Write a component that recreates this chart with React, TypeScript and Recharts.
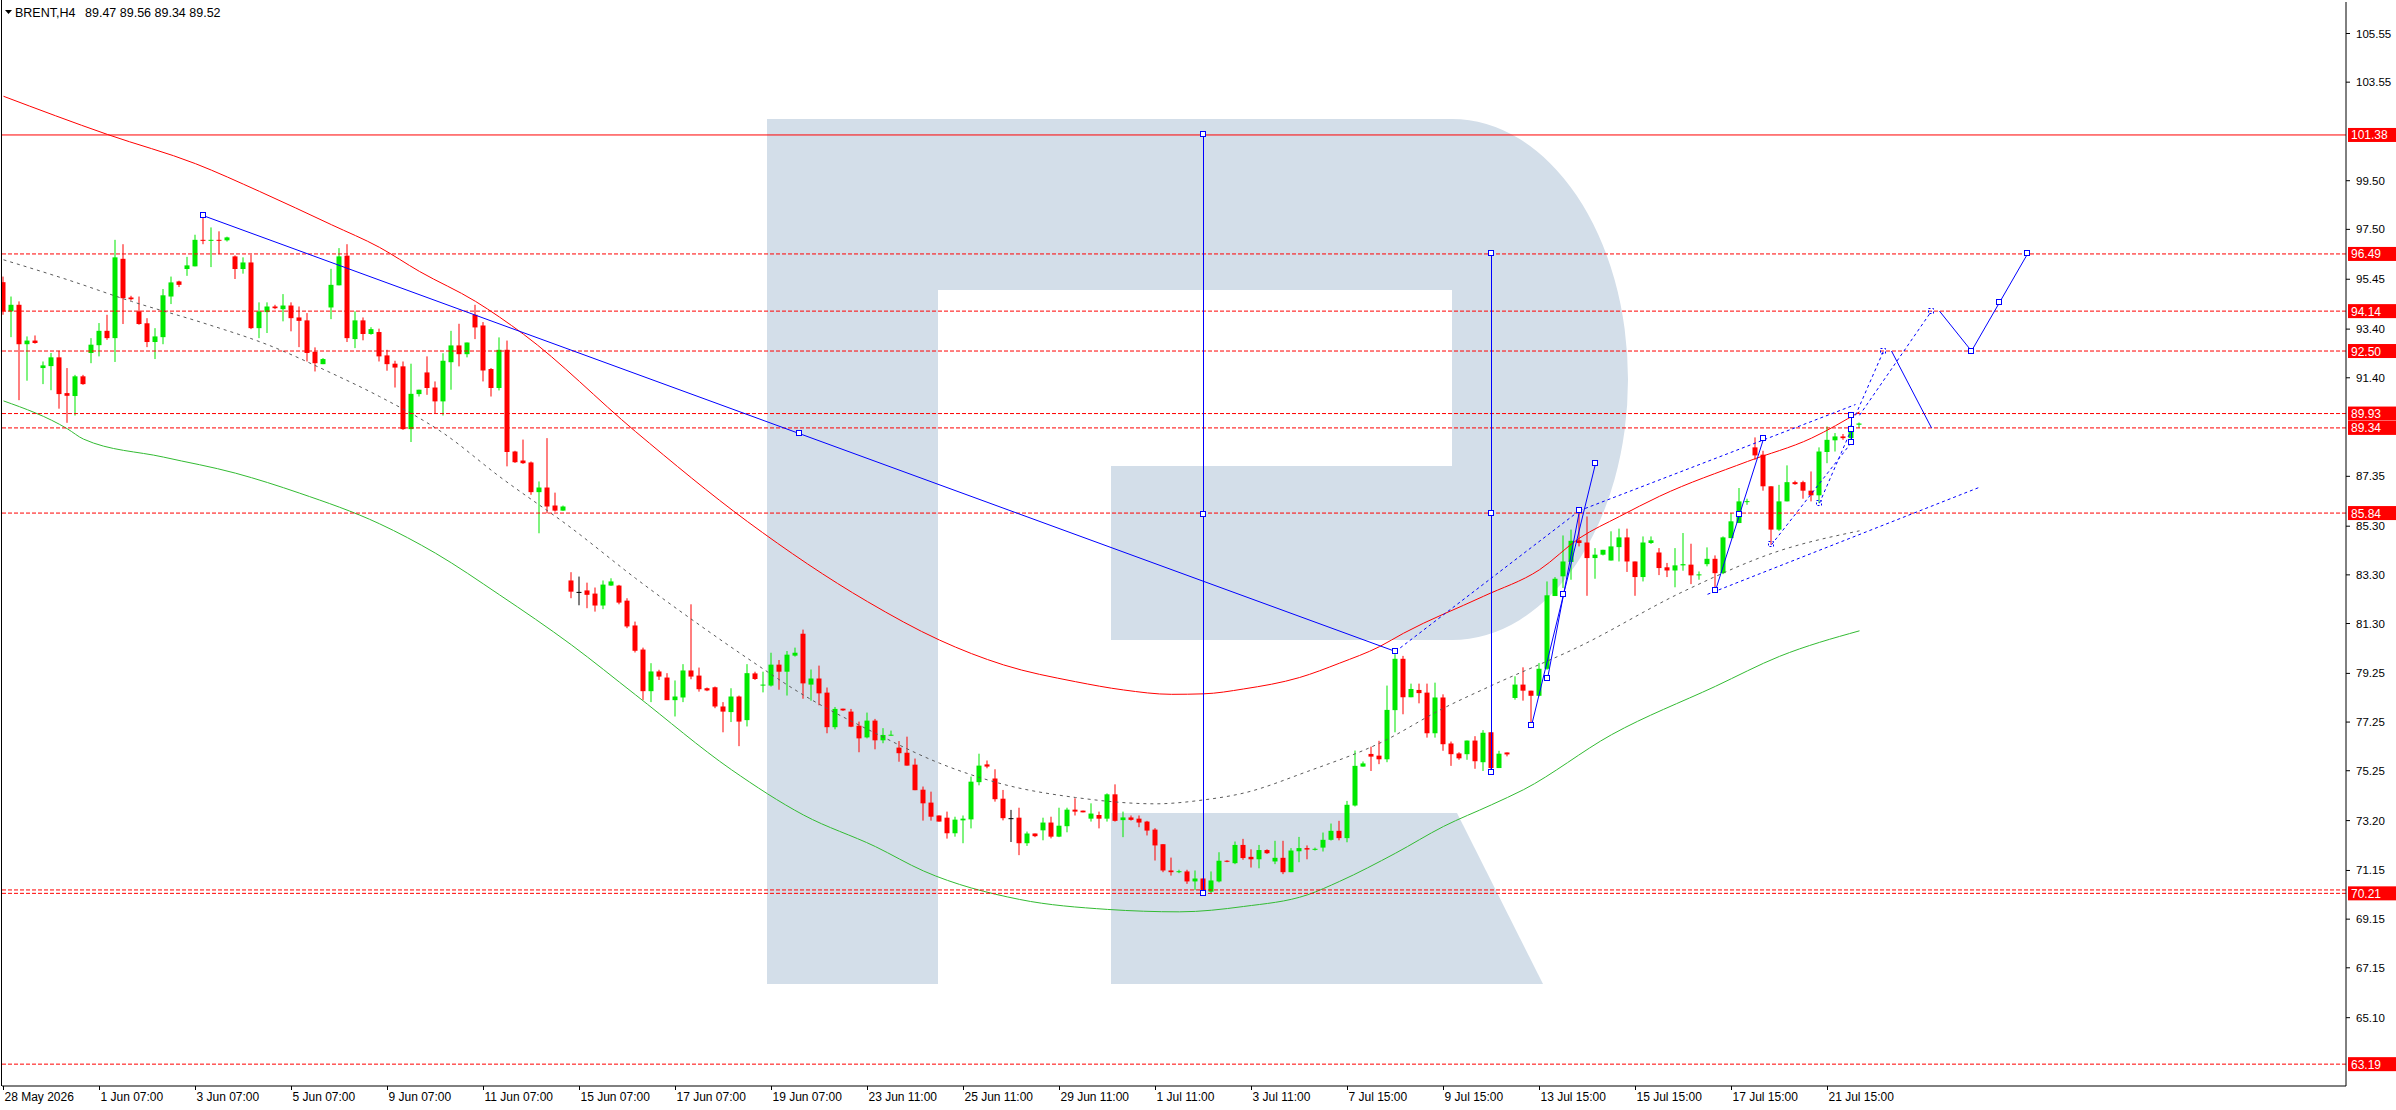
import React from 'react';
import { ComposedChart, Bar, Line, XAxis, YAxis, ReferenceLine, ReferenceDot } from 'recharts';

// H4 bars: [open, high, low, close]
const candles: number[][] = [
  [95.33, 95.56, 93.99, 94.13], [94.13, 94.74, 93.07, 94.40], [94.40, 94.54, 90.48, 92.78], [92.78, 93.10, 91.28, 92.93],
  [92.93, 93.14, 92.80, 92.83], [91.80, 92.07, 91.14, 91.91], [91.88, 92.42, 90.89, 92.24], [92.24, 92.51, 90.13, 90.73],
  [90.77, 91.80, 89.55, 90.66], [90.65, 91.52, 89.85, 91.46], [91.46, 91.52, 91.11, 91.14], [92.42, 93.03, 92.00, 92.76],
  [92.74, 93.65, 92.28, 93.33], [93.33, 93.99, 92.96, 93.03], [93.03, 97.07, 92.05, 96.35], [96.29, 96.89, 93.61, 94.67],
  [94.70, 94.77, 94.58, 94.63], [94.13, 94.74, 93.58, 93.61], [93.64, 93.85, 92.66, 92.87], [92.87, 93.44, 92.17, 93.10],
  [93.07, 95.05, 92.78, 94.79], [94.74, 95.56, 94.43, 95.32], [95.36, 95.39, 95.13, 95.22], [95.87, 96.37, 95.59, 96.02],
  [95.98, 97.28, 95.98, 97.07], [97.07, 98.06, 96.89, 97.05], [97.06, 97.58, 95.95, 97.07], [97.07, 97.42, 96.48, 97.06],
  [97.05, 97.20, 97.00, 97.17], [96.39, 96.43, 95.46, 95.87], [95.87, 96.35, 95.68, 96.14], [96.14, 96.46, 93.40, 93.44],
  [93.44, 94.50, 93.03, 94.13], [94.10, 94.50, 93.24, 94.33], [94.33, 94.40, 94.22, 94.26], [94.22, 94.84, 93.72, 94.37],
  [94.37, 94.50, 93.31, 93.85], [93.88, 94.33, 92.66, 93.74], [93.76, 94.06, 92.07, 92.42], [92.47, 92.65, 91.66, 92.00],
  [91.96, 92.21, 91.96, 92.17], [94.29, 95.88, 93.81, 95.22], [95.20, 96.73, 95.20, 96.39], [96.42, 96.89, 92.87, 93.03],
  [92.99, 94.13, 92.62, 93.76], [93.76, 93.88, 92.94, 93.20], [93.20, 93.48, 93.17, 93.40], [93.28, 93.42, 92.07, 92.28],
  [92.32, 92.55, 91.69, 91.96], [91.98, 92.10, 91.00, 91.82], [91.87, 92.07, 89.26, 89.29], [89.29, 91.98, 88.76, 90.74],
  [90.73, 90.91, 90.63, 90.91], [91.62, 92.28, 90.70, 90.98], [91.00, 91.25, 89.95, 90.43], [90.43, 92.41, 89.85, 92.10],
  [92.04, 93.33, 90.91, 92.73], [92.73, 93.62, 91.87, 92.37], [92.37, 92.85, 92.24, 92.85], [93.99, 94.40, 92.99, 93.47],
  [93.55, 93.69, 91.25, 91.70], [91.76, 91.80, 90.63, 90.98], [90.98, 93.06, 90.88, 92.55], [92.55, 92.93, 87.76, 88.35],
  [88.37, 88.40, 87.90, 87.93], [88.00, 88.86, 87.86, 87.89], [87.92, 87.96, 86.59, 86.70], [86.70, 87.14, 85.01, 86.89],
  [86.89, 88.92, 85.83, 86.11], [86.15, 86.68, 85.90, 85.94], [85.94, 86.15, 85.93, 86.11], [83.07, 83.41, 82.34, 82.61],
  [82.60, 83.23, 82.05, 82.60], [82.66, 82.98, 81.93, 82.48], [82.53, 82.78, 81.79, 82.04], [82.04, 83.07, 81.89, 82.90],
  [82.86, 83.16, 82.85, 83.03], [82.86, 82.89, 82.09, 82.16], [82.24, 82.34, 81.11, 81.18], [81.22, 81.38, 80.11, 80.18],
  [80.23, 80.31, 78.16, 78.52], [78.52, 79.67, 78.07, 79.33], [79.33, 79.40, 78.98, 79.12], [79.08, 79.26, 78.15, 78.15],
  [78.15, 78.96, 77.48, 78.30], [78.26, 79.63, 78.07, 79.37], [79.37, 82.09, 79.01, 79.12], [79.16, 79.49, 78.50, 78.60],
  [78.64, 78.67, 78.52, 78.55], [78.68, 78.71, 77.82, 77.89], [77.89, 78.07, 76.83, 77.68], [77.66, 78.64, 77.25, 78.30],
  [78.30, 78.34, 76.26, 77.27], [77.33, 79.63, 77.07, 79.26], [79.25, 79.32, 78.98, 79.02], [78.76, 79.32, 78.47, 78.79],
  [78.75, 80.10, 78.71, 79.61], [79.61, 79.80, 78.58, 79.32], [79.32, 80.17, 78.34, 80.02], [79.98, 80.31, 79.94, 80.10],
  [80.88, 81.05, 78.21, 78.84], [78.79, 79.41, 78.13, 79.04], [79.04, 79.57, 77.94, 78.43], [78.46, 78.67, 76.79, 77.04],
  [77.04, 77.87, 76.95, 77.79], [77.80, 77.80, 77.71, 77.73], [77.68, 77.79, 77.04, 77.06], [77.10, 77.27, 76.01, 76.58],
  [76.62, 77.64, 76.58, 77.31], [77.31, 77.38, 76.13, 76.50], [76.50, 77.00, 76.38, 76.72], [76.71, 76.90, 76.70, 76.73],
  [76.20, 76.47, 75.62, 75.97], [75.99, 76.65, 75.46, 75.46], [75.50, 75.75, 74.45, 74.45], [74.47, 74.60, 73.20, 73.91],
  [73.94, 74.39, 73.20, 73.36], [73.41, 73.41, 73.16, 73.16], [73.32, 73.57, 72.46, 72.68], [72.68, 73.36, 72.54, 73.24],
  [73.21, 73.41, 72.27, 73.28], [73.25, 75.01, 72.88, 74.80], [74.78, 75.95, 74.65, 75.46], [75.51, 75.67, 75.35, 75.42],
  [74.93, 75.31, 73.98, 74.08], [74.10, 74.46, 73.21, 73.30], [73.30, 73.64, 72.32, 73.30], [73.32, 73.73, 71.78, 72.27],
  [72.27, 72.75, 72.16, 72.67], [72.67, 72.67, 72.52, 72.56], [72.80, 73.32, 72.39, 73.12], [73.12, 73.36, 72.47, 72.54],
  [72.54, 73.73, 72.52, 72.99], [72.97, 73.73, 72.72, 73.65], [73.65, 74.12, 73.41, 73.57], [73.61, 73.61, 73.54, 73.54],
  [73.28, 73.91, 73.16, 73.49], [73.43, 73.57, 72.88, 73.28], [73.28, 74.32, 73.16, 74.28], [74.28, 74.69, 73.16, 73.19],
  [73.22, 73.57, 72.52, 73.33], [73.33, 73.41, 73.20, 73.23], [73.28, 73.41, 72.93, 73.12], [73.16, 73.19, 72.59, 72.79],
  [72.83, 72.89, 71.56, 72.18], [72.23, 72.23, 71.08, 71.15], [71.15, 71.68, 70.94, 71.08], [71.08, 71.18, 71.04, 71.12],
  [71.11, 71.18, 70.60, 70.70], [70.70, 71.15, 70.35, 70.82], [70.82, 70.82, 70.21, 70.25], [70.28, 71.11, 70.21, 70.74],
  [70.70, 71.90, 70.66, 71.55], [71.55, 71.57, 71.49, 71.52], [71.45, 72.34, 71.41, 72.20], [72.20, 72.45, 71.59, 71.66],
  [71.71, 72.02, 71.27, 71.61], [71.61, 72.20, 71.24, 71.99], [71.99, 72.02, 71.83, 71.86], [71.52, 72.37, 71.41, 71.67],
  [71.67, 72.37, 71.00, 71.08], [71.08, 72.07, 71.08, 71.97], [71.94, 72.53, 71.49, 72.07], [72.07, 72.18, 71.61, 72.01],
  [72.02, 72.09, 71.97, 72.04], [72.09, 72.71, 71.93, 72.41], [72.41, 73.08, 72.38, 72.78], [72.78, 73.19, 72.39, 72.48],
  [72.48, 74.01, 72.31, 73.85], [73.82, 76.08, 73.78, 75.45], [75.42, 75.63, 75.42, 75.55], [75.94, 76.24, 75.24, 75.83],
  [75.87, 76.48, 75.52, 75.72], [75.72, 78.75, 75.60, 77.75], [77.74, 80.04, 76.83, 79.85], [79.85, 79.97, 77.57, 78.27],
  [78.27, 78.83, 78.27, 78.61], [78.57, 78.83, 78.02, 78.44], [78.46, 78.83, 76.61, 76.79], [76.79, 78.87, 76.61, 78.26],
  [78.26, 78.39, 76.07, 76.34], [76.37, 76.45, 75.45, 75.93], [75.96, 76.01, 75.70, 75.76], [75.93, 76.49, 75.70, 76.49],
  [76.49, 76.67, 75.33, 75.64], [75.60, 76.92, 75.24, 76.81], [76.83, 76.83, 75.18, 75.36], [75.36, 76.07, 75.36, 75.95],
  [76.00, 76.00, 75.84, 75.92], [78.24, 79.13, 78.17, 78.79], [78.79, 79.50, 78.13, 78.54], [78.54, 78.54, 77.10, 78.33],
  [78.33, 79.68, 78.31, 79.44], [79.44, 83.03, 79.40, 82.46], [82.43, 83.21, 82.43, 83.14], [83.24, 84.92, 82.76, 83.85],
  [83.83, 85.16, 83.10, 84.70], [84.72, 85.84, 84.47, 84.61], [84.63, 85.70, 82.44, 83.99], [83.99, 84.40, 83.14, 84.13],
  [84.13, 84.33, 84.10, 84.33], [83.89, 85.09, 83.89, 84.47], [84.44, 85.20, 83.85, 84.84], [84.84, 85.20, 83.42, 83.85],
  [83.85, 83.85, 82.44, 83.21], [83.21, 84.88, 83.03, 84.63], [84.61, 84.88, 84.57, 84.72], [84.22, 84.40, 83.29, 83.58],
  [83.61, 83.79, 83.21, 83.48], [83.48, 84.40, 82.79, 83.69], [83.69, 85.02, 83.47, 83.74], [83.72, 84.58, 82.92, 83.28],
  [83.29, 83.44, 83.10, 83.32], [83.74, 84.43, 83.65, 83.96], [83.96, 84.10, 82.66, 83.37], [83.37, 84.88, 83.33, 84.84],
  [84.81, 85.84, 84.81, 85.50], [85.43, 86.87, 85.43, 86.32], [86.31, 86.43, 86.18, 86.33], [88.54, 88.95, 88.03, 88.21],
  [88.24, 88.40, 86.76, 86.94], [86.94, 86.94, 84.54, 85.16], [85.16, 87.00, 85.11, 86.32], [86.32, 87.80, 86.32, 87.11],
  [87.11, 87.17, 87.00, 87.03], [87.11, 87.17, 86.43, 86.76], [86.76, 87.55, 86.32, 86.57], [86.57, 88.54, 86.25, 88.37],
  [88.35, 89.40, 87.89, 88.85], [88.83, 89.13, 88.37, 88.99], [88.99, 89.09, 88.85, 88.92], [88.92, 89.47, 88.79, 89.22],
  [89.47, 89.56, 89.34, 89.52],
];

// moving averages sampled at [bar index, price]
const redMa = [
  [0, 102.97], [13, 101.4], [24, 100.2], [32, 99.06], [41, 97.69], [47, 96.76], [52, 95.77], [59, 94.54], [65, 93.19],
  [79, 89.19], [93, 85.49], [108, 82.2], [117, 80.62], [125, 79.6], [134, 78.91], [140, 78.57], [146, 78.39], [150, 78.41],
  [155, 78.61], [162, 79.08], [167, 79.67], [172, 80.35], [175, 80.9], [185, 82.42], [192, 83.51], [197, 84.81],
  [202, 85.7], [207, 86.53], [218, 87.96], [226, 88.92], [232, 90.0],
];
const greenMa = [
  [0, 90.45], [8, 89.3], [10, 88.88], [20, 88.14], [29, 87.48], [37, 86.66], [47, 85.4], [54, 84.19], [62, 82.48],
  [71, 80.42], [79, 78.37], [91, 75.29], [100, 73.43], [109, 72.13], [115, 71.13], [127, 69.96], [138, 69.55],
  [147, 69.45], [155, 69.67], [163, 70.15], [167, 70.7], [174, 71.86], [180, 72.96], [186, 73.85], [190, 74.47],
  [201, 76.73], [214, 78.72], [222, 79.95], [232, 81.0],
];
const grayMa = [
  [0, 96.25], [8, 95.43], [16, 94.54], [25, 93.65], [33, 92.76], [41, 91.59], [47, 90.63], [55, 89.12], [62, 87.34],
  [71, 85.22], [79, 83.16], [87, 81.24], [93, 79.87], [100, 78.36], [109, 76.79], [117, 75.56], [125, 74.69],
  [134, 74.15], [144, 73.89], [150, 74.05], [155, 74.33], [163, 75.22], [172, 76.38], [180, 77.82], [186, 78.75],
  [197, 80.36], [210, 82.62], [222, 84.29], [232, 85.11],
];

const xTickIdx = [0, 12, 24, 36, 48, 60, 72, 84, 96, 108, 120, 132, 144, 156, 168, 180, 192, 204, 216, 228];
const xTickLabels = [
  '28 May 2026', '1 Jun 07:00', '3 Jun 07:00', '5 Jun 07:00', '9 Jun 07:00', '11 Jun 07:00', '15 Jun 07:00',
  '17 Jun 07:00', '19 Jun 07:00', '23 Jun 11:00', '25 Jun 11:00', '29 Jun 11:00', '1 Jul 11:00', '3 Jul 11:00',
  '7 Jul 15:00', '9 Jul 15:00', '13 Jul 15:00', '15 Jul 15:00', '17 Jul 15:00', '21 Jul 15:00',
];
const yTicks = [105.55, 103.55, 99.5, 97.5, 95.45, 93.4, 91.4, 87.35, 85.3, 83.3, 81.3, 79.25, 77.25, 75.25, 73.2, 71.15, 69.15, 67.15, 65.1];

const solidLevel = 101.38;
const dashedLevels = [96.49, 94.14, 92.5, 89.93, 89.34, 85.84, 70.21, 63.19];
const untaggedLevels = [70.35];

// analysis drawings, points are [bar index, price]
const solidSegments = [
  [[25, 98.06], [174, 80.15]],
  [[150, 101.38], [150, 70.21]],
  [[186, 96.49], [186, 75.18]],
  [[191, 77.1], [199, 87.87]],
  [[193, 79.03], [197, 85.94]],
  [[214, 82.66], [220, 88.89]],
  [[231, 88.74], [231, 89.84]],
  [[236, 92.5], [241, 89.34]],
  [[242, 94.14], [246, 92.5]],
  [[246, 92.5], [253, 96.49]],
];
const dashedSegments = [
  [[174, 80.15], [197, 85.94]],
  [[197, 85.94], [231.5, 90.3]],
  [[213, 82.5], [247, 86.9]],
  [[221, 84.54], [231, 88.74]],
  [[227, 86.25], [231, 89.29]],
  [[231.5, 89.86], [235, 92.5]],
  [[232, 89.86], [241, 94.14]],
];
const squareMarks = [
  [25, 98.06], [99.5, 89.1], [174, 80.15],
  [150, 101.38], [150, 85.8], [150, 70.21],
  [186, 96.49], [186, 85.84], [186, 75.18],
  [191, 77.1], [193, 79.03], [195, 82.48], [197, 85.94], [199, 87.87],
  [214, 82.66], [217, 85.78], [220, 88.89],
  [231, 88.74], [231, 89.29], [231, 89.84],
  [246, 92.5], [249.5, 94.5], [253, 96.49],
];
const dashedMarks = [[235, 92.5], [241, 94.14], [221, 84.54], [227, 86.25]];

type Row = { i: number; o: number; h: number; l: number; c: number; range: number[]; red?: number; green?: number; gray?: number };

const rows: Row[] = candles.map((b, i) => ({ i, o: b[0], h: b[1], l: b[2], c: b[3], range: [b[2], b[1]] }));
redMa.forEach(([i, v]) => { rows[i].red = v; });
greenMa.forEach(([i, v]) => { rows[i].green = v; });
grayMa.forEach(([i, v]) => { rows[i].gray = v; });

const FONT = '"Liberation Sans", Arial, sans-serif';
const BLUE = '#0000ff';
const RED = '#ff0000';

const Candle = (props: any) => {
  const { x, y, width, height, payload } = props;
  if (!payload || x == null) return null;
  const { o, h, l, c } = payload;
  const cx = x + width / 2;
  const top = Math.min(y, y + height);
  const span = Math.abs(height);
  const k = h > l ? span / (h - l) : 0;
  const py = (p: number) => top + (h - p) * k;
  const color = c > o ? '#00e800' : c < o ? RED : '#000000';
  const bTop = py(Math.max(o, c));
  const bBot = py(Math.min(o, c));
  return (
    <g>
      <rect x={cx - 0.5} y={top} width={1} height={Math.max(span, 1)} fill={color} />
      <rect x={cx - 2.5} y={bTop} width={5} height={Math.max(bBot - bTop, 1)} fill={color} />
    </g>
  );
};

const XTick = (props: any) => {
  const idx = xTickIdx.indexOf(props.payload.value);
  return (
    <text x={props.x + 1} y={1101} fontSize={12} fontFamily={FONT} fill="#000" textAnchor="start">
      {xTickLabels[idx]}
    </text>
  );
};

const YTick = (props: any) => (
  <text x={2356} y={props.y + 4} fontSize={11.5} fontFamily={FONT} fill="#000" textAnchor="start">
    {Number(props.payload.value).toFixed(2)}
  </text>
);

const LevelTag = (props: any) => {
  const vb = props.viewBox || {};
  const right = (vb.x || 0) + (vb.width || 0);
  const yy = vb.y || 0;
  return (
    <g>
      <rect x={right + 2} y={yy - 7} width={48} height={14} fill={RED} />
      <text x={right + 5} y={yy + 4.5} fontSize={12} fontFamily={FONT} fill="#ffffff">
        {props.text}
      </text>
    </g>
  );
};

const SquareMark = (props: any) => (
  <rect x={Math.floor(props.cx) - 2.5} y={Math.floor(props.cy) - 2.5} width={5} height={5} fill="#ffffff" stroke={BLUE} strokeWidth={1} />
);
const DashedMark = (props: any) => (
  <rect x={Math.floor(props.cx) - 2.5} y={Math.floor(props.cy) - 2.5} width={5} height={5} fill="none" stroke={BLUE} strokeWidth={1} strokeDasharray="2 2" />
);

const Backdrop = () => (
  <svg width={2396} height={1110} style={{ position: 'absolute', left: 0, top: 0 }}>
    <rect x={0} y={0} width={2396} height={1110} fill="#ffffff" />
    <g fill="#d3dee9">
      <rect x={767} y={119} width={171} height={865} />
      <path d="M938,119 H1452 A176,260.5 0 0 1 1452,640 H1111 V466 H1452 V290 H938 Z" />
      <path d="M1111,813 H1457 L1543,984 H1111 Z" />
    </g>
    <rect x={1} y={0} width={1} height={1086} fill="#000000" />
    <polygon points="5,10 12,10 8.5,14" fill="#000000" />
    <text x={15} y={17} fontSize={12.5} fontFamily={FONT} fill="#000">BRENT,H4</text>
    <text x={85} y={17} fontSize={12.5} fontFamily={FONT} fill="#000">89.47 89.56 89.34 89.52</text>
  </svg>
);

const App = () => {
  return (
    <div style={{ position: 'absolute', left: 0, top: 0, width: 2396, height: 1110, background: '#ffffff' }}>
      <Backdrop />
      <div style={{ position: 'absolute', left: 0, top: 0 }}>
        <ComposedChart width={2396} height={1110} data={rows} margin={{ top: 2, right: 0, bottom: 0, left: 2 }}>
          <XAxis
            dataKey="i"
            type="number"
            domain={[-0.1875, 292.8125]}
            allowDataOverflow
            ticks={xTickIdx}
            interval={0}
            tick={<XTick />}
            tickSize={4}
            tickLine={{ stroke: '#000' }}
            axisLine={{ stroke: '#000' }}
            height={24}
          />
          <YAxis
            orientation="right"
            type="number"
            domain={[62.292, 106.845]}
            allowDataOverflow
            ticks={yTicks}
            interval={0}
            tick={<YTick />}
            tickSize={4}
            tickLine={{ stroke: '#000' }}
            axisLine={{ stroke: '#000' }}
            width={50}
          />
          <Bar dataKey="range" barSize={5} shape={<Candle />} isAnimationActive={false} />
          <Line dataKey="red" type="monotone" stroke={RED} strokeWidth={1} dot={false} connectNulls isAnimationActive={false} />
          <Line dataKey="green" type="monotone" stroke="#33bb33" strokeWidth={1} dot={false} connectNulls isAnimationActive={false} />
          <Line dataKey="gray" type="monotone" stroke="#5a5a5a" strokeWidth={1} strokeDasharray="3 4" dot={false} connectNulls isAnimationActive={false} />

          {untaggedLevels.map((p) => (
            <ReferenceLine key={'u' + p} y={p} stroke={RED} strokeDasharray="4 2" />
          ))}
          {dashedLevels.map((p) => (
            <ReferenceLine key={'d' + p} y={p} stroke={RED} strokeDasharray="4 2" label={<LevelTag text={p.toFixed(2)} />} />
          ))}
          <ReferenceLine y={solidLevel} stroke={RED} label={<LevelTag text={solidLevel.toFixed(2)} />} />

          {dashedSegments.map((s, k) => (
            <ReferenceLine key={'ds' + k} segment={[{ x: s[0][0], y: s[0][1] }, { x: s[1][0], y: s[1][1] }]} stroke={BLUE} strokeDasharray="3 3" />
          ))}
          {solidSegments.map((s, k) => (
            <ReferenceLine key={'ss' + k} segment={[{ x: s[0][0], y: s[0][1] }, { x: s[1][0], y: s[1][1] }]} stroke={BLUE} />
          ))}
          {dashedMarks.map((m, k) => (
            <ReferenceDot key={'dm' + k} x={m[0]} y={m[1]} r={3} shape={DashedMark} />
          ))}
          {squareMarks.map((m, k) => (
            <ReferenceDot key={'sm' + k} x={m[0]} y={m[1]} r={3} shape={SquareMark} />
          ))}
        </ComposedChart>
      </div>
    </div>
  );
};

export default App;
